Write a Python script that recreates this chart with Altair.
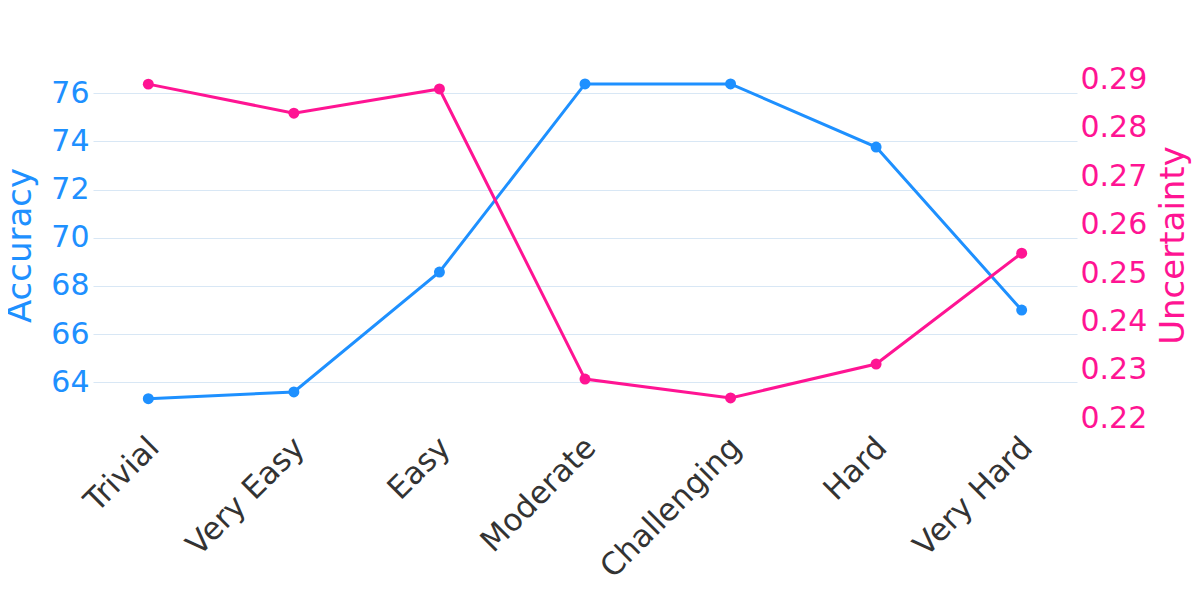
import altair as alt
import pandas as pd

categories = ["Trivial", "Very Easy", "Easy", "Moderate", "Challenging", "Hard", "Very Hard"]
accuracy = [63.32, 63.60, 68.58, 76.39, 76.39, 73.77, 67.00]
uncertainty = [0.2890, 0.2830, 0.2880, 0.2281, 0.2242, 0.2312, 0.2541]
acc_ticks = [64, 66, 68, 70, 72, 74, 76]
unc_ticks = [0.22, 0.23, 0.24, 0.25, 0.26, 0.27, 0.28, 0.29]

df = pd.DataFrame({"Difficulty": categories, "Accuracy": accuracy, "Uncertainty": uncertainty})

BLUE = "#1E90FF"
PINK = "#FF1493"
FONT = "DejaVu Sans"

x = alt.X(
    "Difficulty:N",
    sort=categories,
    scale=alt.Scale(type="point", padding=0.38),
    axis=alt.Axis(
        title=None, labelAngle=-45, labelFontSize=31, labelColor="#333333",
        labelFont=FONT, domain=False, ticks=False, grid=False, labelPadding=12,
        labelOffset=-5, labelLimit=400,
    ),
)

base = alt.Chart(df)

acc = base.mark_line(color=BLUE, strokeWidth=3, point=alt.OverlayMarkDef(color=BLUE, size=120, filled=True, opacity=1)).encode(
    x=x,
    y=alt.Y(
        "Accuracy:Q",
        scale=alt.Scale(domain=[62.434, 76.969], nice=False, zero=False),
        axis=alt.Axis(
            orient="left", values=acc_ticks, title="Accuracy", titleColor=BLUE,
            titleFontSize=34, titleFont=FONT, titleFontWeight="normal",
            labelColor=BLUE, labelFontSize=30, labelFont=FONT,
            domain=False, ticks=False, grid=True, gridColor="#d8e7f5", gridWidth=1,
            labelPadding=4, titlePadding=13,
        ),
    ),
)

unc = base.mark_line(color=PINK, strokeWidth=3, point=alt.OverlayMarkDef(color=PINK, size=120, filled=True, opacity=1)).encode(
    x=x,
    y=alt.Y(
        "Uncertainty:Q",
        scale=alt.Scale(domain=[0.21965, 0.29192], nice=False, zero=False),
        axis=alt.Axis(
            orient="right", values=unc_ticks, format=".2f", title="Uncertainty",
            titleColor=PINK, titleFontSize=34, titleFont=FONT, titleFontWeight="normal",
            titleAngle=270, titleBaseline="top",
            labelColor=PINK, labelFontSize=30, labelFont=FONT,
            domain=False, ticks=False, grid=False, labelPadding=3, titlePadding=10,
        ),
    ),
)

chart = alt.layer(acc, unc).resolve_scale(y="independent").properties(
    width=984, height=350,
    autosize=alt.AutoSizeParams(type="none"),
    padding={"left": 85, "top": 62, "right": 115, "bottom": 170},
).configure_view(stroke=None)

chart.save("out.html", embed_options={"renderer": "svg", "actions": False})
